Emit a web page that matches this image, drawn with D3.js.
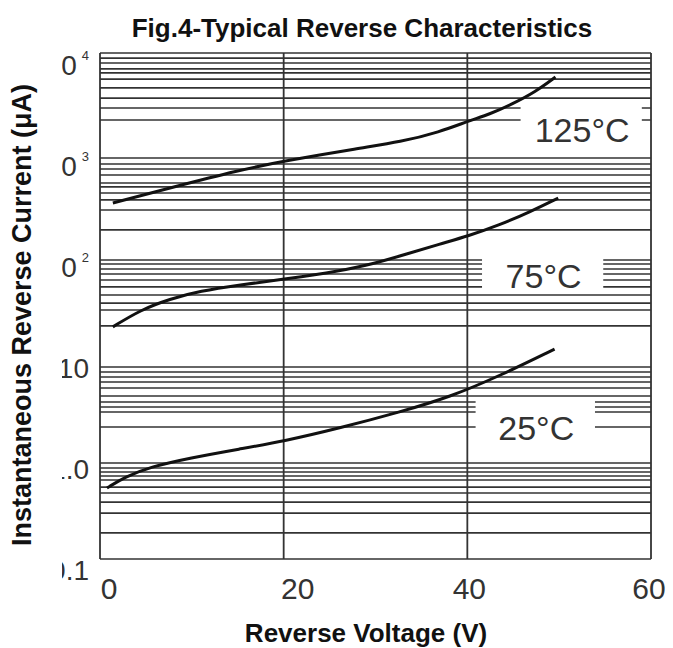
<!DOCTYPE html>
<html>
<head>
<meta charset="utf-8">
<script src="https://cdn.jsdelivr.net/npm/d3@7"></script>
<style>
  html, body { margin: 0; padding: 0; background: #fff; }
  svg { display: block; }
</style>
</head>
<body>
<svg id="chart" width="673" height="648"></svg>
<script>
// ---------------- data ----------------
const xTicks = [0, 20, 40, 60];
const xTickLabels = ["0", "20", "40", "60"];

const yDecades = [0.1, 1, 10, 100, 1000, 10000];
const yTickValues = [10000, 1000, 100, 10, 1, 0.1];
const yTickBase = ["10", "10", "10", "10", "1.0", "0.1"];
const yTickExp = ["4", "3", "2", "", "", ""];

// minor horizontal grid lines as drawn on the sheet (µA)
const minorGrid = [
  8950, 8035, 7047, 6457, 5650, 4645, 3725, 2992, 2301,
  873, 780, 681, 569, 520, 454, 388, 309, 197,
  91.8, 82.4, 74.0, 65.0, 56.0, 47.1, 39.6, 34.1, 24.2,
  8.87, 7.87, 6.98, 6.04, 4.99, 4.32, 3.83, 3.40, 2.37,
  0.887, 0.806, 0.732, 0.665, 0.562, 0.487, 0.392, 0.301, 0.187
];

const seriesNames = ["125°C", "75°C", "25°C"];
const v125 = [1.4, 7.6, 15.2, 20.1, 28.3, 32.7, 37.0, 40.1, 42.5, 44.9, 47.4, 49.6];
const i125 = [362, 508, 762, 935, 1245, 1420, 1770, 2250, 2624, 3268, 4252, 5900];
const v75 = [1.4, 4.4, 7.6, 10.9, 15.2, 20.1, 26.1, 29.7, 33.4, 37.0, 40.1, 43.5, 46.8, 49.9];
const i75 = [23.7, 34.1, 43.2, 51.3, 58.4, 66.4, 78.9, 91.8, 114.5, 143.5, 171.9, 220, 295.5, 405];
const v25 = [0.76, 2.72, 5.44, 9.8, 15.2, 20.1, 26.1, 32.7, 38.1, 43.5, 49.5];
const i25 = [0.549, 0.715, 0.908, 1.13, 1.40, 1.69, 2.31, 3.40, 4.87, 8.06, 14.7];

// label boxes in data units: [v0, v1, iTop, iBottom], text anchor [v, i]
const labelBoxes = [[45.8, 59.0, 3343, 1140], [41.6, 54.8, 157, 51.3], [40.9, 53.9, 4.64, 1.54]];
const labelAnchors = [[52.5, 1420], [48.3, 54.7], [47.5, 1.74]];

// ---------------- layout ----------------
const svg = d3.select("#chart");
const left = 100, right = 651;
const font = "Liberation Sans, Arial, sans-serif";

const x = d3.scaleLinear().domain([0, 60]).range([left, right]);
// the printed log grid has slightly uneven decades
const y = d3.scaleLog().domain(yDecades).range([559, 463, 367, 260, 158, 53]);
const yLabel = d3.scaleLog().domain([0.1, 10000]).range([580, 75]);
const xLabelShift = [9, 14, 2, -2];

const gridColor = "#333";
const g = svg.append("g");

g.selectAll("line.minor").data(minorGrid.concat(yDecades)).join("line")
  .attr("x1", left).attr("x2", right)
  .attr("y1", d => y(d)).attr("y2", d => y(d))
  .attr("stroke", gridColor).attr("stroke-width", 1.7);

g.selectAll("line.v").data(xTicks).join("line")
  .attr("x1", d => x(d)).attr("x2", d => x(d))
  .attr("y1", y(10000)).attr("y2", y(0.1))
  .attr("stroke", gridColor).attr("stroke-width", 1.8);

// white label boxes hiding grid
svg.append("g").selectAll("rect").data(labelBoxes).join("rect")
  .attr("x", d => x(d[0])).attr("width", d => x(d[1]) - x(d[0]))
  .attr("y", d => y(d[2])).attr("height", d => y(d[3]) - y(d[2]))
  .attr("fill", "#fff");

// curves
const seriesData = [
  v125.map((v, k) => [v, i125[k]]),
  v75.map((v, k) => [v, i75[k]]),
  v25.map((v, k) => [v, i25[k]])
];
const line = d3.line().x(d => x(d[0])).y(d => y(d[1])).curve(d3.curveBasis);
svg.append("g").selectAll("path").data(seriesData).join("path")
  .attr("d", line).attr("fill", "none").attr("stroke", "#111").attr("stroke-width", 3);

// series labels
svg.append("g").selectAll("text").data(labelAnchors).join("text")
  .attr("x", d => x(d[0])).attr("y", d => y(d[1]))
  .attr("text-anchor", "middle")
  .attr("font-family", font)
  .attr("font-size", 34).attr("fill", "#333")
  .text((d, k) => seriesNames[k]);

// x tick labels
svg.append("g").selectAll("text").data(xTicks).join("text")
  .attr("x", (d, k) => x(d) + xLabelShift[k]).attr("y", 599)
  .attr("text-anchor", "middle")
  .attr("font-family", font)
  .attr("font-size", 30).attr("fill", "#333")
  .text((d, k) => xTickLabels[k]);

// y tick labels (left part cropped like the scan)
const clip = svg.append("defs").append("clipPath").attr("id", "yclip");
clip.append("rect").attr("x", 62).attr("y", 0).attr("width", 38).attr("height", 648);
const yl = svg.append("g").attr("clip-path", "url(#yclip)")
  .selectAll("text").data(yTickValues).join("text")
  .attr("x", 89).attr("y", d => yLabel(d))
  .attr("text-anchor", "end")
  .attr("font-family", font)
  .attr("font-size", 28).attr("fill", "#333");
yl.append("tspan").text((d, k) => yTickBase[k]);
yl.append("tspan").attr("dx", (d, k) => yTickExp[k] ? 5 : 0).attr("dy", -15)
  .attr("font-size", 13).text((d, k) => yTickExp[k]);

// titles
svg.append("text").attr("x", 362).attr("y", 37).attr("text-anchor", "middle")
  .attr("font-family", font).attr("font-weight", "bold")
  .attr("font-size", 26).attr("fill", "#111")
  .text("Fig.4-Typical Reverse Characteristics");
svg.append("text").attr("x", 366).attr("y", 642).attr("text-anchor", "middle")
  .attr("font-family", font).attr("font-weight", "bold")
  .attr("font-size", 26).attr("fill", "#111")
  .text("Reverse Voltage (V)");
svg.append("text").attr("transform", "translate(31,315) rotate(-90)").attr("text-anchor", "middle")
  .attr("font-family", font).attr("font-weight", "bold")
  .attr("font-size", 27).attr("fill", "#111")
  .text("Instantaneous Reverse Current (μA)");
</script>
</body>
</html>
